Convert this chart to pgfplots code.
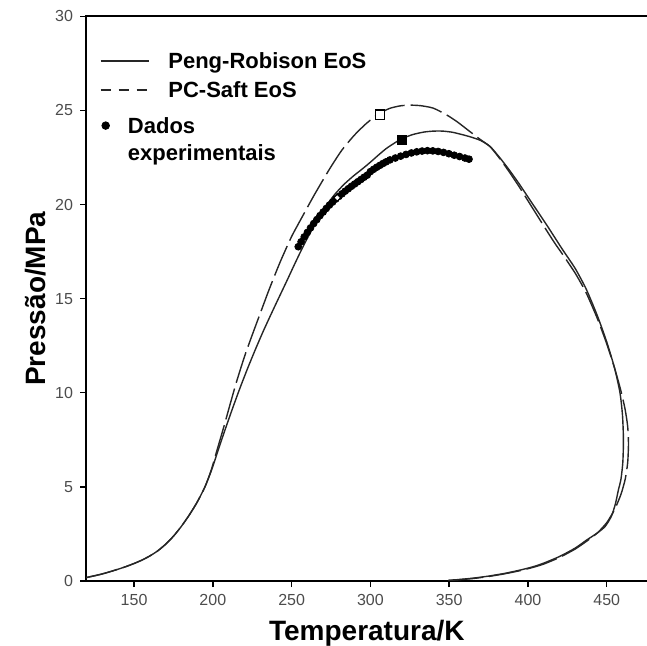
\documentclass[border=0pt]{standalone}
\usepackage{fontspec}
\setmainfont{Liberation Sans}
\usepackage{pgfplots}
\pgfplotsset{compat=1.18}
\usetikzlibrary{calc}

\begin{document}
\begin{tikzpicture}
\begin{axis}[
  scale only axis, width=280.85pt, height=282.35pt,
  xmin=119.5, xmax=476, ymin=0, ymax=30,
  xtick={150,200,...,450}, ytick={0,5,...,30},
  xtick pos=bottom, ytick pos=left, tick align=outside, major tick length=3pt,
  axis line style={black, line width=0.8pt}, tick style={black, line width=0.7pt},
  /pgf/number format/assume math mode=true,
  tick label style={font=\fontsize{8}{9}\selectfont, text=black!70},
  label style={font=\bfseries\fontsize{14}{16}\selectfont},
  xlabel={Temperatura/K}, ylabel={Pressão/MPa},
  x label style={at={(axis description cs:0.5,-0.1045)}, anchor=base},
  y label style={at={(axis description cs:-0.089,0.5)}, anchor=center},
  legend style={at={(axis description cs:0.0249,0.935)}, anchor=north west, inner sep=0pt, outer sep=0pt,
    draw=none, fill=none, row sep=5pt, cells={anchor=base west},
    nodes={inner sep=0pt, font=\bfseries\fontsize{11}{13.3}\selectfont},
    /tikz/every odd column/.append style={column sep=9.5pt}},
  legend image code/.code={\draw[#1] (0pt,4pt) -- (24pt,4pt);},
]
% Peng-Robinson
\addplot[black!85, line width=0.7pt, smooth, tension=0.4, forget plot] coordinates {
(119.5,0.18) (125,0.28) (130,0.38) (135,0.5) (140,0.63) (145,0.77) (150,0.93) (155,1.11) (160,1.33)
(165,1.6) (170,1.95) (175,2.38) (180,2.9) (185,3.5) (190,4.18) (195,5.0) (199,5.85) (203,6.85)
(207,7.85) (212,9.05) (217,10.2) (222,11.28) (227,12.3) (232,13.27) (237,14.18) (242,15.07) (247,15.95)
(252,16.85) (257,17.72) (262,18.53) (267,19.27) (272,19.93) (277,20.5) (283,21.05) (289,21.5)
(295,21.9) (300,22.25) (305,22.62) (310,22.97) (315,23.25) (320,23.5) (327,23.72) (334,23.85)
(340,23.9) (346,23.9) (352,23.84) (358,23.72) (364,23.58) (370,23.4) (376,23.08) (382,22.5)
(388,21.85) (394,21.15) (400,20.4) (406,19.65) (412,18.9) (417,18.25) (422,17.6) (430,16.6)
(437,15.5) (444,14.1) (450,12.7) (455,11.3) (458.4,10.0) (460,8.8) (460.6,7.5) (460.2,6.3)
(459,5.4) (457.3,4.8) (455.5,4.1) (453,3.45) (449,2.9) (444,2.55) (437.3,2.18) (430,1.75)
(420,1.3) (410,0.95) (403.4,0.76) (395,0.58) (385,0.4) (375,0.26) (365,0.15) (355,0.07) (349.4,0.04)
};
% PC-SAFT
\addplot[black!85, line width=0.7pt, dash pattern=on 16pt off 3pt, smooth, tension=0.4, forget plot] coordinates {
(119.5,0.18) (125,0.28) (130,0.38) (135,0.5) (140,0.63) (145,0.77) (150,0.93) (155,1.11) (160,1.33)
(165,1.6) (170,1.95) (175,2.38) (180,2.9) (185,3.5) (190,4.18) (195,5.0) (199,5.9) (203,7.05)
(207,8.2) (211,9.4) (215.1,10.6) (220,11.9) (224.6,12.98) (230,14.2) (235.2,15.37) (238.4,16.05)
(243,17.0) (250,18.3) (257.4,19.45) (265,20.6) (274.4,21.93) (282,22.9) (290,23.7) (297.6,24.32)
(305,24.8) (312,25.1) (318.8,25.24) (325,25.28) (332,25.25) (339.9,25.12) (348.4,24.76) (355,24.4)
(362,23.95) (369,23.5) (375.9,23.08) (382,22.45) (388,21.75) (394,21.0) (400,20.2) (406,19.4)
(412,18.6) (417,17.95) (422,17.35) (430,16.35) (437,15.3) (444,13.95) (450,12.6) (455,11.3)
(459,10.1) (461.7,9.1) (463.3,8.2) (463.8,7.3) (463.3,6.3) (461.7,5.4) (459,4.6) (455,3.8)
(450,3.1) (444,2.55) (437,2.1) (430,1.7) (420,1.25) (410,0.9) (403,0.72) (395,0.55) (385,0.38)
(375,0.24) (365,0.13) (355,0.06) (350,0.03)
};
% experimental data
\addplot[only marks, mark=*, mark size=1.7pt, black, forget plot] coordinates {
(254.2,17.76) (256,18.02) (258,18.28) (260,18.52) (262,18.76) (264,18.99) (266,19.2) (268,19.41)
(270,19.6) (272,19.79) (274,19.97) (276,20.13) (278,20.29) (280,20.43) (282,20.57) (284,20.71)
(286,20.84) (288,20.97) (290,21.09) (292,21.21) (294,21.33) (296,21.45) (298,21.56) (300,21.75)
(302,21.87) (304,21.98) (306,22.08) (308,22.18) (310,22.27) (312.4,22.37) (315.8,22.47)
(319.2,22.57) (322.6,22.66) (326,22.74) (329.4,22.8) (332.8,22.84) (336.2,22.86) (339.6,22.85)
(343,22.82) (346.4,22.77) (349.8,22.7) (353.2,22.62) (356.6,22.55) (360,22.47) (362.6,22.41)
};
\addplot[only marks, mark=*, mark size=0.9pt, mark options={fill=white, draw=white}, forget plot] coordinates {(279,20.36)};
% critical points
\addplot[only marks, mark=square*, mark size=2.3pt, mark options={fill=white, draw=black, line width=0.6pt, solid}, forget plot] coordinates {(306,24.78)};
\addplot[only marks, mark=square*, mark size=2.3pt, black, forget plot] coordinates {(320,23.43)};
% legend
\addlegendimage{black!85, line width=0.7pt}
\addlegendentry{\rule[-3pt]{0pt}{11pt}Peng-Robison EoS}
\addlegendimage{black!85, line width=0.7pt, dash pattern=on 5pt off 4pt}
\addlegendentry{\rule[-3pt]{0pt}{11pt}PC-Saft EoS}
\addlegendimage{legend image code/.code={\fill[black] (2.5pt,4pt) circle (1.9pt);}}
\addlegendentry{\hspace*{-20.2pt}\begin{tabular}[t]{@{}l@{}}\rule{0pt}{11.3pt}Dados\\experimentais\end{tabular}}
\coordinate (bl) at (rel axis cs:0,0);
\end{axis}
\pgfresetboundingbox
\path ($(bl)+(-43pt,-32.5pt)$) rectangle ($(bl)+(280pt,290.5pt)$);
\end{tikzpicture}
\end{document}
